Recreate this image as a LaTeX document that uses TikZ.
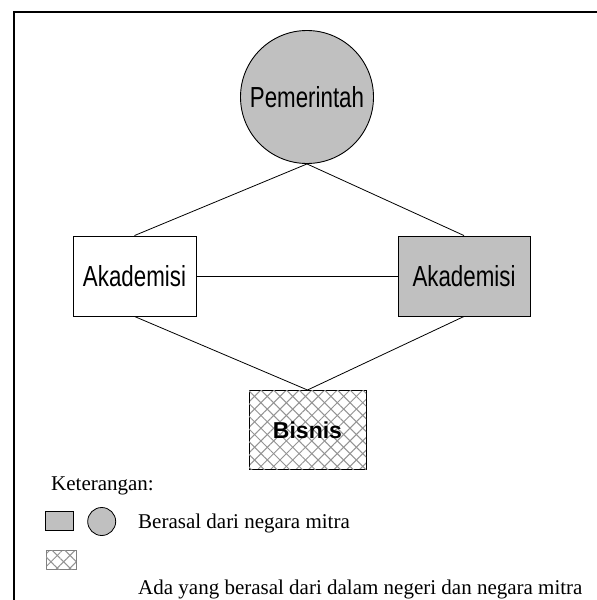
\documentclass[tikz,border=0pt]{standalone}
\usepackage{fontspec}
\setmainfont{Liberation Serif}
\newfontfamily\arialf{Liberation Sans}
\usetikzlibrary{patterns.meta}
\definecolor{mygray}{RGB}{192,192,192}
\newcommand{\sqz}[1]{\scalebox{0.77}[1]{#1}}
\begin{document}
\begin{tikzpicture}[x=1pt,y=-1pt,
  ent/.style={draw, line width=0.9pt, inner sep=0pt, font=\arialf\fontsize{29}{30}\selectfont},
  hatch/.style={pattern={Lines[angle=45,distance=9pt,line width=1pt]}, pattern color=gray!85,
    postaction={pattern={Lines[angle=-45,distance=9pt,line width=1pt]}, pattern color=gray!85}},
  conn/.style={line width=0.8pt},
  legtext/.style={anchor=base west, inner sep=0pt, font=\fontsize{21}{24}\selectfont}
]
\useasboundingbox (0,0) rectangle (597,600);
\fill[white] (0,0) rectangle (597,600);
\draw[line width=2pt] (600,11.5) -- (13.5,11.5) -- (13.5,603);

\node[ent, circle, minimum size=133pt, fill=mygray] (gov) at (307,97) {\sqz{Pemerintah}};
\node[ent, rectangle, minimum width=123pt, minimum height=80pt, fill=white] (akL) at (134.5,276) {\sqz{Akademisi}};
\node[ent, rectangle, minimum width=132pt, minimum height=80pt, fill=mygray] (akR) at (464,276) {\sqz{Akademisi}};
\node[ent, rectangle, minimum width=117pt, minimum height=79pt, hatch, font=\arialf\bfseries\fontsize{23}{25}\selectfont] (bis) at (307.5,430) {Bisnis};

\draw[conn] (gov.south) -- (akL.north);
\draw[conn] (gov.south) -- (akR.north);
\draw[conn] (akL.east) -- (akR.west);
\draw[conn] (akL.south) -- (bis.north);
\draw[conn] (akR.south) -- (bis.north);

\node[legtext] (ket) at (51,490.7) {Keterangan:};
\node[draw, line width=0.8pt, rectangle, fill=mygray, minimum width=28pt, minimum height=19pt, inner sep=0pt] (lrect) at (59,520.5) {};
\node[draw, line width=0.8pt, circle, fill=mygray, minimum size=28pt, inner sep=0pt] (lcirc) at (101.7,521.5) {};
\node[legtext] (lt1) at (138,528.3) {Berasal dari negara mitra};
\node[draw=gray, line width=0.8pt, rectangle, hatch, minimum width=30pt, minimum height=19pt, inner sep=0pt] (lhatch) at (61,559.5) {};
\node[legtext] (lt2) at (138,594) {Ada yang berasal dari dalam negeri dan negara mitra};
\end{tikzpicture}
\end{document}
